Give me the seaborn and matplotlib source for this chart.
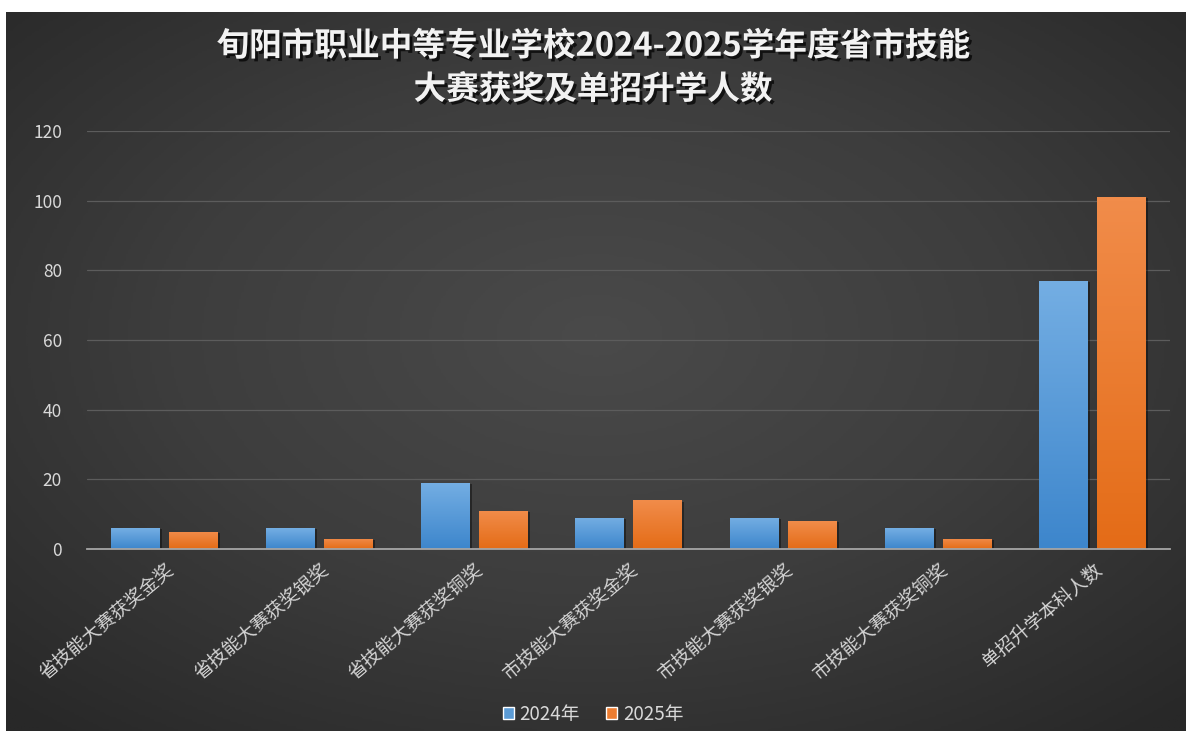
import numpy as np
import pandas as pd
import matplotlib
matplotlib.use("Agg")
import matplotlib.pyplot as plt
import matplotlib.patheffects as pe
from matplotlib.colors import LinearSegmentedColormap
import seaborn as sns

# 数据
categories = ["省技能大赛获奖金奖", "省技能大赛获奖银奖", "省技能大赛获奖铜奖",
              "市技能大赛获奖金奖", "市技能大赛获奖银奖", "市技能大赛获奖铜奖",
              "单招升学本科人数"]
years = ["2024年", "2025年"]
values_2024 = [6, 6, 19, 9, 9, 6, 77]
values_2025 = [5, 3, 11, 14, 8, 3, 101]
y_ticks = [0, 20, 40, 60, 80, 100, 120]
title = "旬阳市职业中等专业学校2024-2025学年度省市技能\n大赛获奖及单招升学人数"

sns.set_theme(style="dark")
plt.rcParams["font.family"] = ["Noto Sans CJK SC", "DejaVu Sans"]

df = pd.DataFrame({
    "类别": categories * 2,
    "年份": [years[0]] * len(categories) + [years[1]] * len(categories),
    "人数": values_2024 + values_2025,
})

fig = plt.figure(figsize=(11.86, 7.31), dpi=100, facecolor="white")

# 背景渐变
bg = fig.add_axes([6 / 1186, 0, 1 - 6 / 1186, 719 / 731])
yy, xx = np.mgrid[-1:1:300j, -1:1:500j]
r = np.sqrt(xx ** 2 + (yy + 0.1) ** 2)
bg_cmap = LinearSegmentedColormap.from_list("bg", ["#4a4a4a", "#3d3d3d", "#282828"])
bg.imshow(r, cmap=bg_cmap, aspect="auto", extent=[0, 1, 0, 1], vmin=0, vmax=1.45)
bg.axis("off")

ax = fig.add_axes([0.0734, 0.249, 0.913, 0.572])
ax.patch.set_alpha(0)
sns.barplot(data=df, x="类别", y="人数", hue="年份",
            palette=["#5b9bd5", "#ed7d31"], width=0.75, gap=0.17,
            saturation=1, ax=ax)

# 柱子渐变与阴影
grads = [("#74aee3", "#3d86cc"), ("#f18c4a", "#e46c17")]
for cont, (c_top, c_bot) in zip(ax.containers, grads):
    cmap = LinearSegmentedColormap.from_list("g", [c_bot, c_top])
    for bar in cont:
        x, w, h = bar.get_x(), bar.get_width(), bar.get_height()
        bar.set_path_effects([pe.SimplePatchShadow(offset=(2, -1), shadow_rgbFace="black", alpha=0.4),
                              pe.Normal()])
        bar.set_edgecolor("none")
        im = ax.imshow(np.linspace(0, 1, 100).reshape(-1, 1), cmap=cmap, origin="lower",
                       extent=[x, x + w, 0, h], aspect="auto", zorder=bar.get_zorder() + 0.1)
        im.set_clip_path(bar)

ax.set_xlim(-0.5, len(categories) - 0.5)
ax.set_ylim(0, 120)
ax.set_yticks(y_ticks)
ax.set_xticks(range(len(categories)))
ax.set_xticklabels(categories, rotation=40, ha="right", rotation_mode="anchor")
ax.tick_params(axis="x", colors="#d4d4d4", labelsize=13.5, length=0, pad=7)
ax.tick_params(axis="y", colors="#d9d9d9", labelsize=12.5, length=0, pad=18)
ax.set_xlabel("")
ax.set_ylabel("")
ax.grid(axis="y", color="#5c5c5c", linewidth=0.9)
ax.set_axisbelow(True)
for s in ["top", "right", "left"]:
    ax.spines[s].set_visible(False)
ax.spines["bottom"].set_color("#a6a6a6")
ax.spines["bottom"].set_linewidth(1.3)

handles, labels = ax.get_legend_handles_labels()
ax.legend(handles, labels, loc="center", bbox_to_anchor=(0.5, 0.023),
          bbox_transform=fig.transFigure, ncol=2, frameon=False,
          handlelength=0.6, handleheight=0.6, handletextpad=0.3,
          columnspacing=1.4, fontsize=13.5, labelcolor="#d9d9d9")

fig.text(0.5, 0.907, title, ha="center", va="center", fontsize=23.5, fontweight="bold",
         color="#f2f2f2", linespacing=1.4,
         path_effects=[pe.withSimplePatchShadow(offset=(2, -2), shadow_rgbFace="black", alpha=0.7)])

fig.savefig("out.png", dpi=100, facecolor=fig.get_facecolor())
